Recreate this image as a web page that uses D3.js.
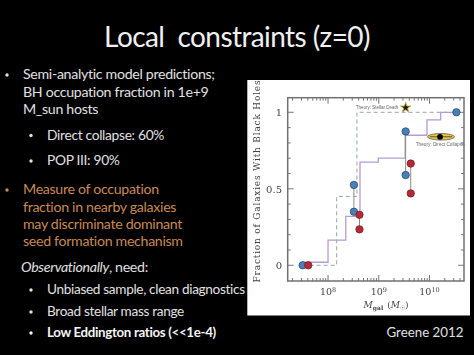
<!DOCTYPE html>
<html><head><meta charset="utf-8">
<script src="https://cdn.jsdelivr.net/npm/d3@7"></script>
<style>html,body{margin:0;padding:0;background:#000;overflow:hidden}svg{display:block}</style>
</head><body><svg id="c" width="474" height="355"></svg>
<script>
const titleText = "Local  constraints (z=0)";
const modelLines = ["Semi-analytic model predictions;","BH occupation fraction in 1e+9","M_sun hosts"];
const modelSub = ["Direct collapse: 60%","POP III: 90%"];
const measureLines = ["Measure of occupation","fraction in nearby galaxies","may discriminate dominant","seed formation mechanism"];
const needItalic = "Observationally";
const needRest = ", need:";
const needLines = ["Unbiased sample, clean diagnostics","Broad stellar mass range"];
const needBold = "Low Eddington ratios (<<1e-4)";
const creditText = "Greene 2012";
const yLabel = "Fraction of Galaxies With Black Holes";
const yTicks = [0,0.5,1];
const yMinor = [0,0.1,0.2,0.3,0.4,0.5,0.6,0.7,0.8,0.9,1];
const xMajor = [1e8,1e9,1e10];
const blueMass = [10**7.5,10**8.51,10**8.51,10**9.53,10**9.53,10**10.53];
const blueFrac = [0,0.525,0.35,0.875,0.59,1];
const redMass = [10**7.61,10**8.62,10**8.62,10**9.63,10**9.63];
const redFrac = [0,0.33,0.235,0.665,0.47];
const stepMass = [10**7.5,1e8,10**8.35,10**8.63,10**8.99,10**9.52,10**9.95,10**10.22,10**10.53];
const stepFrac = [0.02,0.165,0.32,0.675,0.70,0.85,0.95,1,1];
const dashMass = [10**7.5,10**8.17,10**8.57,10**10.53];
const dashFrac = [0,0.45,1,1];
const stellarTheory = [10**9.53,1.03];
const collapseTheory = [10**10.227,0.84];

const svg = d3.select("#c");
svg.append("defs").append("filter").attr("id","soft").append("feGaussianBlur").attr("stdDeviation",0.3);
svg.append("rect").attr("width",474).attr("height",355).attr("fill","#000");
const sans = "Lato, 'Open Sans', sans-serif";
const white="#e0e0e0", orange="#c98a55";

svg.append("text").attr("x",237).attr("y",47).attr("text-anchor","middle").attr("fill","#f0f0f0")
  .attr("font-family",sans).attr("font-size",28).attr("letter-spacing",-0.58).style("white-space","pre").text(titleText);

function block(lines,left,ys,color,size,bullets,weight){
  const s = svg.append("g");
  s.selectAll("text").data(lines).join("text").attr("x",left).attr("y",(d,i)=>ys[i])
    .attr("fill",color).attr("font-family",sans).attr("font-size",size).attr("letter-spacing",-0.32)
    .attr("font-weight",weight||400).text(d=>d);
  s.selectAll("circle").data(bullets).join("circle").attr("cx",left-16).attr("cy",d=>ys[d]-4)
    .attr("r",1.7).attr("fill",color);
}
block(modelLines,23,[79,96.5,114],white,14.2,[0]);
block(modelSub,47,[139.5,165],white,13.8,[0,1]);
block(measureLines,23,[194,211.5,229,246],orange,14.2,[0]);
block(needLines,47,[294,316],white,13.6,[0,1]);
block([needBold],47,[337],"#f5f5f5",13.3,[0],700);

const obs = svg.append("text").attr("x",21).attr("y",271.5).attr("fill",white).attr("font-family",sans).attr("font-size",14.2).attr("letter-spacing",-0.32);
obs.append("tspan").attr("font-style","italic").text(needItalic);
obs.append("tspan").text(needRest);
svg.append("text").attr("x",386.5).attr("y",337).attr("fill",white).attr("font-family",sans).attr("font-size",13.3).text(creditText);

svg.append("rect").attr("x",247.3).attr("y",80).attr("width",222.7).attr("height",235.5).attr("fill","#fff");

const x = d3.scaleLog().domain([10**7.205,10**10.68]).range([287.7,464]);
const y = d3.scaleLinear().domain([0,1]).range([265.3,112.3]);
const L=287.7,R=464,T=97.7,B=281;
const serif = "'DejaVu Serif', serif";
const g = svg.append("g").attr("filter","url(#soft)");

const xMinor = d3.range(7,11).flatMap(e=>d3.range(1,10).map(m=>m*10**e)).filter(v=>v>=x.domain()[0]&&v<=x.domain()[1]);
const tickCol="#555";
const xt = g.append("g").attr("stroke",tickCol).attr("stroke-width",0.8);
xMinor.forEach(v=>{const M=xMajor.includes(v)?6:3;
  xt.append("line").attr("x1",x(v)).attr("x2",x(v)).attr("y1",B).attr("y2",B-M);
  xt.append("line").attr("x1",x(v)).attr("x2",x(v)).attr("y1",T).attr("y2",T+M);});
const yt = g.append("g").attr("stroke",tickCol).attr("stroke-width",0.8);
yMinor.forEach(v=>{const M=yTicks.includes(v)?6:3;
  yt.append("line").attr("x1",L).attr("x2",L+M).attr("y1",y(v)).attr("y2",y(v));
  yt.append("line").attr("x1",R).attr("x2",R-M).attr("y1",y(v)).attr("y2",y(v));});
g.append("rect").attr("x",L).attr("y",T).attr("width",R-L).attr("height",B-T).attr("fill","none").attr("stroke","#707070").attr("stroke-width",1.5);

const dashPts = dashMass.map((m,i)=>[m,dashFrac[i]]);
const stepPts = stepMass.map((m,i)=>[m,stepFrac[i]]);
const ln = d3.line().x(d=>x(d[0])).y(d=>y(d[1])).curve(d3.curveStepAfter);
g.append("path").attr("d",ln(dashPts)).attr("fill","none").attr("stroke","#9aa5a0").attr("stroke-width",1).attr("stroke-dasharray","4,3");
g.append("path").attr("d",ln(stepPts)).attr("fill","none").attr("stroke","#b79ad6").attr("stroke-width",1.3);

const pairs = (ms,vals)=>[[1,2],[3,4]].forEach(([a,b])=>{
  g.append("line").attr("x1",x(ms[a])).attr("x2",x(ms[b])).attr("y1",y(vals[a])).attr("y2",y(vals[b])).attr("stroke","#8a8f80").attr("stroke-width",1);});
pairs(blueMass,blueFrac); pairs(redMass,redFrac);

g.selectAll("circle.b").data(blueMass).join("circle").attr("class","b").attr("cx",d=>x(d)).attr("cy",(d,i)=>y(blueFrac[i]))
  .attr("r",3.7).attr("fill","#4a7fb5").attr("stroke","#23456b").attr("stroke-width",0.7);
g.selectAll("circle.r").data(redMass).join("circle").attr("class","r").attr("cx",d=>x(d)).attr("cy",(d,i)=>y(redFrac[i]))
  .attr("r",3.7).attr("fill","#b52a35").attr("stroke","#6b1a22").attr("stroke-width",0.7);

g.selectAll("text.yl").data(yTicks).join("text").attr("class","yl").attr("x",282).attr("y",d=>y(d)+4)
  .attr("text-anchor","end").attr("font-family",serif).attr("font-size",10).attr("fill","#444").text(d=>d);
const xl = g.selectAll("text.xl").data(xMajor).join("text").attr("class","xl").attr("x",d=>x(d)).attr("y",295)
  .attr("text-anchor","middle").attr("font-family",serif).attr("font-size",9.5).attr("fill","#444");
xl.append("tspan").text("10");
xl.append("tspan").attr("dy",-3).attr("font-size",6.5).text(d=>Math.round(Math.log10(d)));

g.append("text").attr("transform","translate(260,181) rotate(-90)").attr("text-anchor","middle")
  .attr("font-family",serif).attr("font-size",9).attr("letter-spacing",0.8).attr("fill","#444").text(yLabel);
const xa = g.append("text").attr("x",386).attr("y",308).attr("text-anchor","middle").attr("font-family",serif).attr("font-size",9).attr("fill","#444");
xa.append("tspan").attr("font-style","italic").text("M");
xa.append("tspan").attr("dy",2).attr("font-size",6).attr("font-weight",700).text("gal");
xa.append("tspan").attr("dy",-2).attr("dx",4).text("(");
xa.append("tspan").attr("font-style","italic").text("M");
xa.append("tspan").attr("dy",2).attr("font-size",6).text("☉");
xa.append("tspan").attr("dy",-2).text(")");

const anno = "'Liberation Sans',sans-serif";
const sx=x(stellarTheory[0]), sy=y(stellarTheory[1]), cx=x(collapseTheory[0]), cy=y(collapseTheory[1]);
g.append("text").attr("x",sx-50).attr("y",sy+1.5).attr("font-family",anno).attr("font-size",4.5).attr("fill","#666").text("Theory: Stellar Death");
g.append("text").attr("x",cx-25.3).attr("y",cy+8.8).attr("font-family",anno).attr("font-size",4.7).attr("fill","#666").text("Theory: Direct Collapse");
g.append("path").attr("transform",`translate(${sx},${sy})`).attr("d",d3.symbol(d3.symbolStar,34)())
  .attr("fill","#1c1c08").attr("stroke","#c9b458").attr("stroke-width",1);
g.append("ellipse").attr("cx",cx).attr("cy",cy).attr("rx",13.5).attr("ry",3.3).attr("fill","#e3c64a").attr("stroke","#333").attr("stroke-width",0.6);
g.append("line").attr("x1",cx-11).attr("x2",cx+11).attr("y1",cy).attr("y2",cy).attr("stroke","#222").attr("stroke-width",0.7);
g.append("circle").attr("cx",cx-1).attr("cy",cy).attr("r",2.9).attr("fill","#000");
</script></body></html>
